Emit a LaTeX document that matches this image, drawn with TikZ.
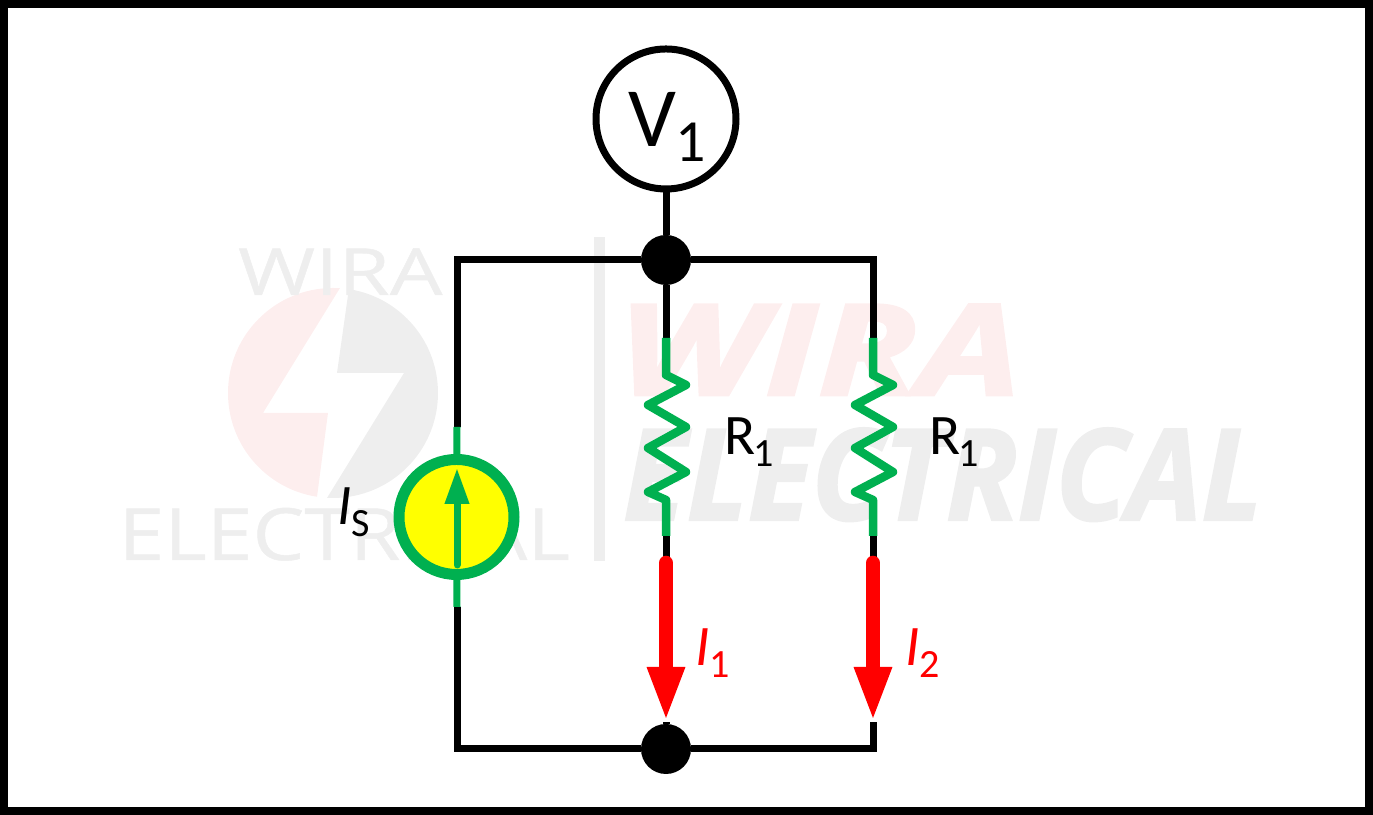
\documentclass[tikz,border=0pt]{standalone}
\usepackage{fontspec}
\setmainfont{Carlito}
\newfontfamily\markfont[UprightFeatures={FakeBold=0.6},BoldItalicFeatures={FakeBold=2}]{Open Sans}
\usepackage{tikz}
\usetikzlibrary{arrows,arrows.meta}
\usetikzlibrary{calc}
\usetikzlibrary{positioning}
\definecolor{wiregreen}{HTML}{00B050}
\definecolor{faceyellow}{HTML}{FFFF00}
\definecolor{purered}{HTML}{FF0000}
\definecolor{markgray}{HTML}{EEEEEE}
\definecolor{markpink}{HTML}{FDEEEE}
\newcommand{\subtext}[1]{\raisebox{-3.2pt}{\fontsize{11.4}{12}\selectfont #1}}
\tikzstyle{wire} = [draw, black, line width=0.07cm, line join=miter]
\tikzstyle{lead} = [draw, wiregreen, line width=0.07cm, line join=round]
\tikzstyle{zigzag} = [draw, wiregreen, line width=0.085cm, line join=round]
\tikzstyle{dot} = [circle, fill=black, minimum size=0.5cm, inner sep=0pt, outer sep=0pt]
\tikzstyle{meter} = [draw, circle, line width=0.07cm, fill=white, minimum size=1.4cm, inner sep=0pt, outer sep=0pt]
\tikzstyle{source} = [draw=wiregreen, circle, line width=0.11cm, fill=faceyellow, minimum size=1.15cm, inner sep=0pt, outer sep=0pt]
\tikzstyle{current} = [draw, purered, line width=0.145cm, line cap=round, -{Triangle[length=0.55cm,width=0.34cm]}]
\tikzstyle{label} = [anchor=base west, inner sep=0pt, outer sep=0pt, font=\fontsize{16.3}{18}\selectfont]
\tikzstyle{marktext} = [anchor=base west, inner sep=0pt, outer sep=0pt, markgray, transform shape]
\begin{document}
\begin{tikzpicture}[>=latex']
    \useasboundingbox (0,0) rectangle (13.73,8.15);

    % We start with the watermark
    \begin{scope}
        \clip (3.33,4.22) circle (1.05);
        \fill[markpink] (3.40,5.27) -- (2.63,4.02) -- (3.28,4.02) -- (3.17,3.18) -- (2,3) -- (2,5.4) -- cycle;
        \fill[markgray] (3.49,5.27) -- (3.37,4.42) -- (4.04,4.42) -- (3.27,3.17) -- (4.6,3) -- (4.6,5.4) -- cycle;
    \end{scope}
    \begin{scope}[xscale=1.28]
        \node[marktext, font=\markfont\fontsize{18.5}{20}\selectfont] at (1.86,5.20) (markA) {WIRA};
    \end{scope}
    \begin{scope}[xscale=1.14]
        \node[marktext, font=\markfont\fontsize{20.5}{22}\selectfont] at (1.04,2.55) (markB) {ELECTRICAL};
    \end{scope}
    \node[shape=coordinate] at (5.99,5.78) (barA) {};
    \node[shape=coordinate] at (5.99,2.54) (barB) {};
    \draw[markgray, line width=0.11cm] (barA) -- (barB);
    \begin{scope}[xscale=1.3]
        \node[marktext, markpink, font=\markfont\bfseries\itshape\fontsize{36}{38}\selectfont] at (4.75,4.20) (markC) {WIRA};
    \end{scope}
    \begin{scope}[xscale=0.93]
        \node[marktext, font=\markfont\bfseries\itshape\fontsize{36}{38}\selectfont] at (6.70,2.95) (markD) {ELECTRICAL};
    \end{scope}

    % Now the blocks
    \node[dot] at (6.66,5.55) (top) {};
    \node[dot] at (6.66,0.66) (bot) {};
    \node[meter] at (6.66,6.96) (meter) {};
    \node[source] at (4.565,2.98) (src) {};

    \node[shape=coordinate] at (4.57,3.88) (srcA) {};
    \node[shape=coordinate] at (4.57,2.08) (srcB) {};
    \node[shape=coordinate] at (6.66,4.77) (resA) {};
    \node[shape=coordinate] at (6.66,2.79) (resB) {};
    \node[shape=coordinate] at (6.66,2.52) (curA) {};
    \node[shape=coordinate] at (6.66,0.93) (curB) {};
    \node[shape=coordinate] at (8.73,4.77) (resC) {};
    \node[shape=coordinate] at (8.73,2.79) (resD) {};
    \node[shape=coordinate] at (8.73,2.52) (curC) {};
    \node[shape=coordinate] at (8.73,0.93) (curD) {};
    \node[shape=coordinate] at (4.57,2.50) (tailA) {};
    \node[shape=coordinate] at (4.57,3.47) (tipA) {};

    % Black wires
    \draw[wire] (meter) -- (top);
    \draw[wire] (srcA) |- (top);
    \draw[wire] (top) -| (resC);
    \draw[wire] (top) -- (resA);
    \draw[wire] (srcB) |- (bot);
    \draw[wire] (bot) -| (curD);
    \draw[wire] (bot) -- (curB);
    \draw[wire] (resB) -- (curA);
    \draw[wire] (resD) -- (curC);

    % Green parts
    \draw[lead] (srcA) -- (src);
    \draw[lead] (src) -- (srcB);
    \draw[zigzag] (resA) -- ++(0,-0.37) -- ++(0.2,-0.10) -- ++(-0.38,-0.20) -- ++(0.38,-0.22)
        -- ++(-0.38,-0.21) -- ++(0.38,-0.24) -- ++(-0.38,-0.20) -- ++(0.18,-0.08) -- (resB);
    \draw[zigzag] (resC) -- ++(0,-0.37) -- ++(0.2,-0.10) -- ++(-0.38,-0.20) -- ++(0.38,-0.22)
        -- ++(-0.38,-0.21) -- ++(0.38,-0.24) -- ++(-0.38,-0.20) -- ++(0.18,-0.08) -- (resD);
    \draw[wiregreen, line width=0.07cm, line cap=round, -{Triangle[length=0.36cm,width=0.23cm]}] (tailA) -- (tipA);

    % Red currents
    \draw[current] (curA) -- (curB);
    \draw[current] (curC) -- (curD);

    % Labels
    \node[label, font=\fontsize{24}{26}\selectfont] at (6.28,6.68) (vname) {V\raisebox{-4pt}{\fontsize{17}{17}\selectfont 1}};
    \node[label] at (7.24,3.60) (rnameA) {R\kern-0.5pt\subtext{1}};
    \node[label] at (9.29,3.60) (rnameB) {R\kern-0.5pt\subtext{1}};
    \node[label] at (3.37,2.90) (sname) {\textit{I}\subtext{S}};
    \node[label, purered] at (6.95,1.49) (cnameA) {\textit{I}\subtext{1}};
    \node[label, purered] at (9.05,1.49) (cnameB) {\textit{I}\subtext{2}};

    % Frame
    \draw[line width=0.08cm] (0.04,0.04) rectangle (13.69,8.11);
\end{tikzpicture}
\end{document}
